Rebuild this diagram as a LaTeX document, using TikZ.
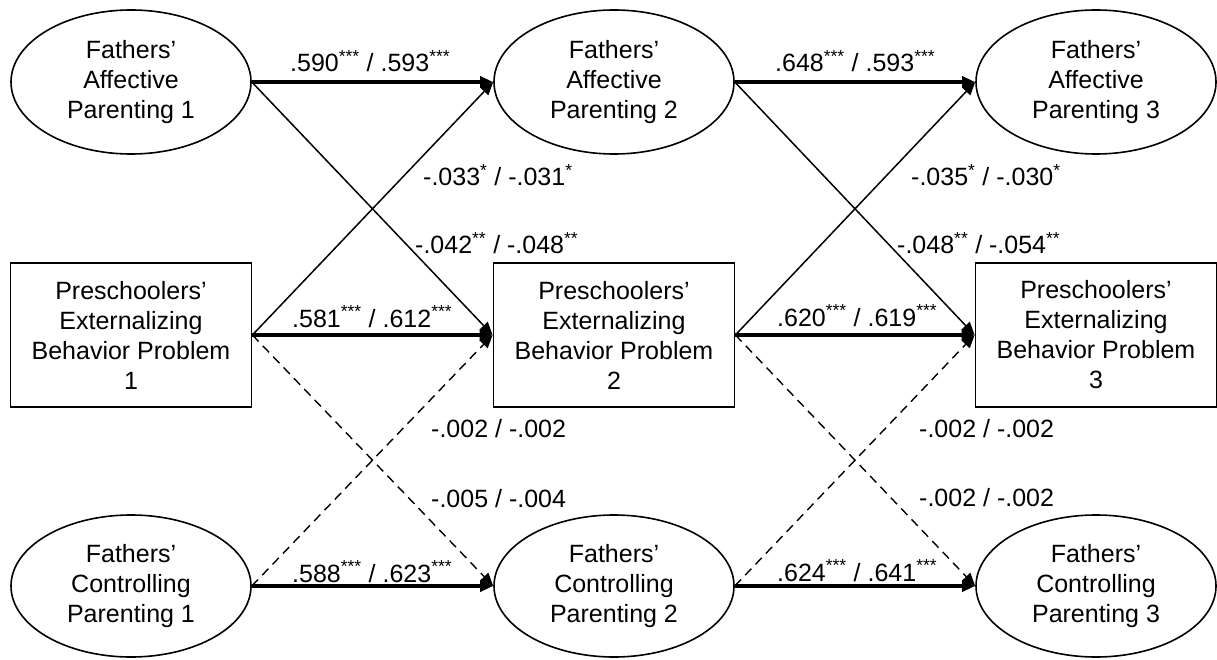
\documentclass[tikz,border=0pt]{standalone}
\usepackage{fontspec}
\setmainfont{Liberation Sans}
\usetikzlibrary{shapes.geometric,arrows.meta}
\begin{document}
\begin{tikzpicture}[x=1pt,y=-1pt,
  every node/.style={font=\fontsize{25}{30}\selectfont},
  lat/.style={draw,ellipse,line width=1.6pt,minimum width=240pt,minimum height=144pt,inner sep=0pt,align=center},
  obs/.style={draw,rectangle,line width=1.8pt,minimum width=241pt,minimum height=144pt,inner sep=0pt,align=center},
  tip/.style={-{Triangle[length=13pt,width=11pt]}},
  main/.style={tip,line width=3.2pt},
  cross/.style={tip,line width=1.5pt},
  ns/.style={tip,line width=1.4pt,dash pattern=on 9pt off 6pt},
  lab/.style={anchor=base west,inner sep=0pt}
]
\useasboundingbox (0,0) rectangle (1217,660);
% nodes
\node[lat] (A1) at (131,82) {Fathers'\\Affective\\Parenting 1};
\node[lat] (A2) at (614,82) {Fathers'\\Affective\\Parenting 2};
\node[lat] (A3) at (1096,82) {Fathers'\\Affective\\Parenting 3};
\node[obs] (E1) at (131,335) {Preschoolers'\\Externalizing\\Behavior Problem\\1};
\node[obs] (E2) at (614,335) {Preschoolers'\\Externalizing\\Behavior Problem\\2};
\node[obs] (E3) at (1096,335) {Preschoolers'\\Externalizing\\Behavior Problem\\3};
\node[lat,minimum height=142pt] (C1) at (131,586) {Fathers'\\Controlling\\Parenting 1};
\node[lat,minimum height=142pt] (C2) at (614,586) {Fathers'\\Controlling\\Parenting 2};
\node[lat,minimum height=142pt] (C3) at (1096,586) {Fathers'\\Controlling\\Parenting 3};
% connectors
\draw[main] (A1.east) -- (A2.west);
\draw[main] (A2.east) -- (A3.west);
\draw[main] (E1.east) -- (E2.west);
\draw[main] (E2.east) -- (E3.west);
\draw[main] (C1.east) -- (C2.west);
\draw[main] (C2.east) -- (C3.west);
\draw[cross] (A1.east) -- (E2.west);
\draw[cross] (E1.east) -- (A2.west);
\draw[cross] (A2.east) -- (E3.west);
\draw[cross] (E2.east) -- (A3.west);
\draw[ns] (E1.east) -- (C2.west);
\draw[ns] (C1.east) -- (E2.west);
\draw[ns] (E2.east) -- (C3.west);
\draw[ns] (C2.east) -- (E3.west);
% labels
\node[lab] (l1) at (290,72) {.590\textsuperscript{***} / .593\textsuperscript{***}};
\node[lab] (l2) at (292,327) {.581\textsuperscript{***} / .612\textsuperscript{***}};
\node[lab] (l3) at (292,582) {.588\textsuperscript{***} / .623\textsuperscript{***}};
\node[lab] (l4) at (423,186) {-.033\textsuperscript{*} / -.031\textsuperscript{*}};
\node[lab] (l5) at (415,254) {-.042\textsuperscript{**} / -.048\textsuperscript{**}};
\node[lab] (l6) at (431,437) {-.002 / -.002};
\node[lab] (l7) at (431,507) {-.005 / -.004};
\node[lab] (r1) at (775,72) {.648\textsuperscript{***} / .593\textsuperscript{***}};
\node[lab] (r2) at (777,326) {.620\textsuperscript{***} / .619\textsuperscript{***}};
\node[lab] (r3) at (777,581) {.624\textsuperscript{***} / .641\textsuperscript{***}};
\node[lab] (r4) at (911,186) {-.035\textsuperscript{*} / -.030\textsuperscript{*}};
\node[lab] (r5) at (897,254) {-.048\textsuperscript{**} / -.054\textsuperscript{**}};
\node[lab] (r6) at (919,437) {-.002 / -.002};
\node[lab] (r7) at (919,506) {-.002 / -.002};
\end{tikzpicture}
\end{document}
